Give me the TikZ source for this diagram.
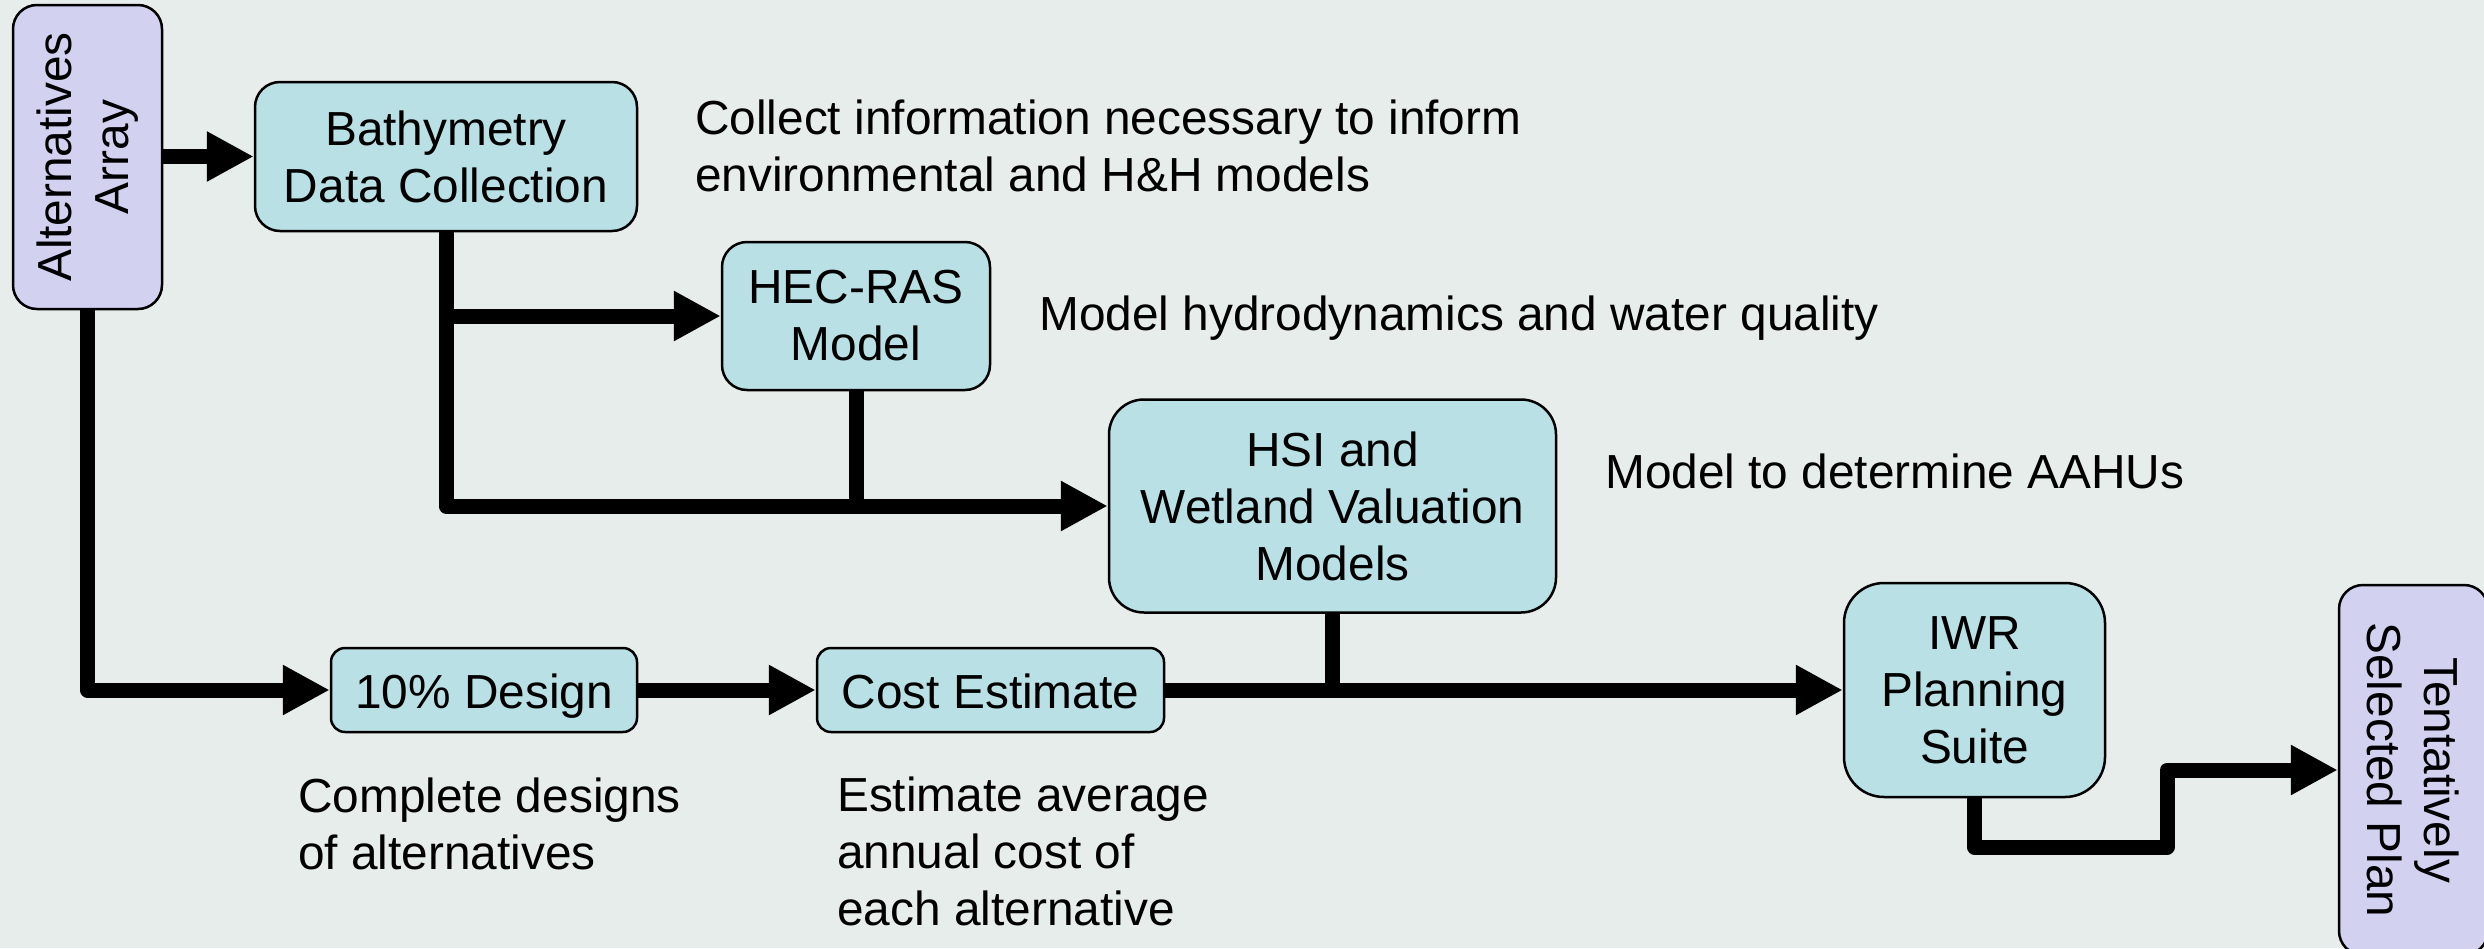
\documentclass[tikz,border=0pt]{standalone}
\usepackage{fontspec}
\setmainfont{Liberation Sans}
\usetikzlibrary{arrows.meta}
\definecolor{bgc}{RGB}{231,237,235}
\definecolor{boxc}{RGB}{185,224,228}
\definecolor{altc}{RGB}{210,210,240}
\begin{document}
\begin{tikzpicture}[x=1pt,y=-1pt,
  txt/.style={font=\fontsize{47.8}{57}\selectfont, inner sep=0pt},
  box/.style={txt, draw=black, line width=2.5pt, fill=boxc, align=center, rounded corners=#1},
  box/.default=24pt,
  endbox/.style={box=24pt, fill=altc},
  oneline/.style={text height=36pt, text depth=0pt},
  side/.style={txt, align=left},
  conn/.style={line width=15pt, line join=round},
  arr/.style={conn, -{Triangle[length=47pt,width=47pt]}}]
\clip (0,0) rectangle (2484,948);
\fill[bgc] (0,0) rectangle (2484,948);
% boxes
\node[endbox, rotate=90, minimum width=304pt, minimum height=149pt] (alt) at (87.5,157) {Alternatives\\Array};
\node[box=25pt, minimum width=382pt, minimum height=149pt] (bathy) at (446,156.5) {Bathymetry\\Data Collection};
\node[box=25pt, minimum width=268pt, minimum height=148pt] (hec) at (856,316) {HEC-RAS\\Model};
\node[box=35pt, minimum width=447pt, minimum height=213pt] (hsi) at (1332.5,506) {HSI and\\Wetland Valuation\\Models};
\node[box=14pt, oneline, minimum width=306pt, minimum height=84pt] (des) at (484,690) {10\% Design};
\node[box=14pt, oneline, minimum width=347pt, minimum height=84pt] (cost) at (990.5,690) {Cost Estimate};
\node[box=40pt, minimum width=261pt, minimum height=214pt] (iwr) at (1974.5,690) {IWR\\Planning\\Suite};
\node[endbox, rotate=-90, minimum width=370pt, minimum height=149pt] (tsp) at (2413.5,770) {Tentatively\\Selected Plan};
% side texts
\node[side, anchor=north west] (t1) at (695,100) {Collect information necessary to inform\\environmental and H\&H models};
\node[side, anchor=base west] (t2) at (1039,330) {Model hydrodynamics and water quality};
\node[side, anchor=base west] (t3) at (1605,488) {Model to determine AAHUs};
\node[side, anchor=north west] (t4) at (298,778) {Complete designs\\of alternatives};
\node[side, anchor=north west] (t5) at (837,777) {Estimate average\\annual cost of\\each alternative};
% connectors
\coordinate (c1) at (2167,847);
\draw[arr] (alt.south |- bathy.west) -- (bathy.west);
\draw[arr] (bathy.south) |- (hsi.west);
\draw[arr] (bathy.south |- hec.west) -- (hec.west);
\draw[conn] (hec.south) -- (hec.south |- hsi.west);
\draw[arr] (alt.west) |- (des.west);
\draw[arr] (des.east) -- (cost.west);
\draw[arr] (cost.east) -- (iwr.west);
\draw[conn] (hsi.south) -- (hsi.south |- cost.east);
\draw[arr] (iwr.south) |- (c1) |- (tsp.south);
\end{tikzpicture}
\end{document}
